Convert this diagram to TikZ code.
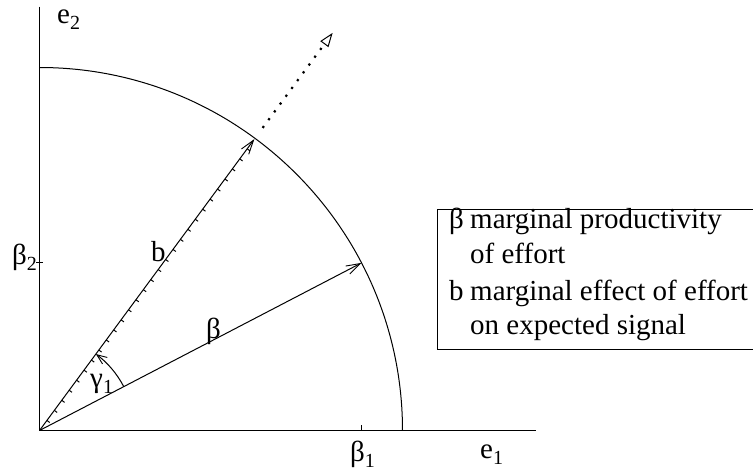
\documentclass[tikz,border=0pt]{standalone}
\usepackage{fontspec}
\setmainfont{Liberation Serif}
\usetikzlibrary{arrows.meta,calc}
\newcommand\lowsub[1]{\raisebox{-6pt}{\fontsize{20}{20}\selectfont #1}}
\begin{document}
\begin{tikzpicture}[x=1pt,y=1pt,
  lbl/.style={inner sep=0pt,anchor=base west,font=\fontsize{29}{35}\selectfont},
  axis/.style={line width=1.2pt},
  circ/.style={line width=1pt},
  vec/.style={line width=1pt,-{Straight Barb[length=14pt,width=9pt,line width=0.9pt]}},
  tickmark/.style={line width=1pt},
  dots/.style={line width=2.2pt,dash pattern=on 2.2pt off 7.5pt,
    -{Triangle[open,length=14pt,width=10pt,line width=1pt]}},
  gam/.style={line width=1pt,-{Straight Barb[length=10pt,width=8pt,line width=0.9pt]}},
  legbox/.style={line width=1pt}]
\clip (0,0) rectangle (753,475);
\coordinate (O) at (39.5,44.5);
\coordinate (Ytop) at (39.5,468.3);
\coordinate (Xend) at (536,44.5);
\draw[axis] (Ytop) -- (O) -- (Xend);
\coordinate (C0) at ($(O)+(363,0)$);
\draw[circ] (C0) arc[start angle=0,end angle=90,radius=363];
\coordinate (Bt) at ($(O)+(27.5:363)$);
\coordinate (bt) at ($(O)+(53.6:362)$);
\coordinate (Ds) at ($(O)+(53.6:376)$);
\coordinate (D) at ($(O)+(53.6:494)$);
\draw[vec] (O) -- (Bt);
\draw[vec] (O) -- (bt);
\foreach \k in {1,...,28} \draw[tickmark] ($(O)+(53.6:{\k*12.5})$) -- ++(-36.4:3.5);
\draw[dots] (Ds) -- (D);
\coordinate (G0) at ($(O)+(27.5:95)$);
\draw[gam] (G0) arc[start angle=27.5,end angle=53.6,radius=95];
% axis ticks
\coordinate (T1) at ($(O)+(322,0)$);
\draw[tickmark] (T1) -- ++(0,6);
\coordinate (T2a) at ($(O)+(-3.5,167.6)$);
\coordinate (T2b) at ($(O)+(3.5,167.6)$);
\draw[tickmark] (T2a) -- (T2b);
% labels
\node[lbl] (le2) at (57,451) {e\lowsub{2}};
\node[lbl] (lb2) at (12,211) {β\lowsub{2}};
\node[lbl] (lb1) at (350,13.3) {β\lowsub{1}};
\node[lbl] (le1) at (480,17) {e\lowsub{1}};
\node[lbl] (lbeta) at (206,137) {β};
\node[lbl] (lbv) at (151,213.3) {b};
\node[lbl] (lgam) at (90,88) {γ\lowsub{1}};
% legend
\coordinate (L1) at (770,266);
\coordinate (L2) at (437,126);
\coordinate (L3) at (770,126);
\draw[legbox] (L1) -| (L2) -- (L3);
\node[lbl] (k1) at (449,247) {β};
\node[lbl] (t1) at (470,247) {marginal productivity};
\node[lbl] (t2) at (470,212) {of effort};
\node[lbl] (k2) at (449,175) {b};
\node[lbl] (t3) at (470,175) {marginal effect of effort};
\node[lbl] (t4) at (470,141) {on expected signal};
\end{tikzpicture}
\end{document}
